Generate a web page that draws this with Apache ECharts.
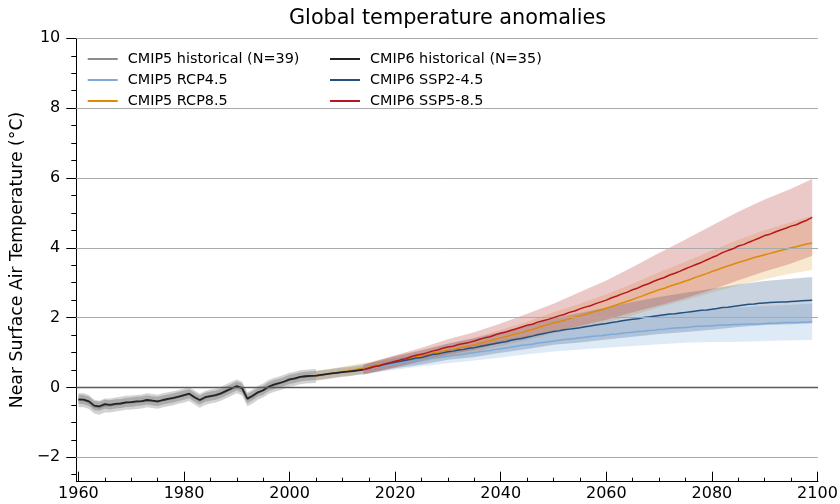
<!DOCTYPE html>
<html><head><meta charset="utf-8">
<script src="https://cdn.jsdelivr.net/npm/echarts@6/dist/echarts.min.js"></script>
<style>html,body{margin:0;padding:0;background:#fff}#c{width:840px;height:504px}</style>
</head><body><div id="c"></div>
<script>
// ---- data ----
const hist5Start = 1960; // CMIP5 historical 1960-2005
const hist5Mean = [-0.36,-0.37,-0.42,-0.55,-0.58,-0.52,-0.52,-0.49,-0.47,-0.44,
  -0.43,-0.42,-0.40,-0.37,-0.39,-0.41,-0.37,-0.34,-0.31,-0.27,
  -0.23,-0.19,-0.29,-0.38,-0.30,-0.26,-0.23,-0.18,-0.11,-0.04,
  0.03,-0.03,-0.34,-0.26,-0.15,-0.09,0.01,0.07,0.11,0.16,
  0.22,0.25,0.29,0.31,0.32,0.33];
const hist6Start = 1960; // CMIP6 historical 1960-2014
const hist6Mean = [-0.34,-0.35,-0.40,-0.52,-0.54,-0.48,-0.50,-0.47,-0.46,-0.43,
  -0.42,-0.40,-0.39,-0.36,-0.38,-0.40,-0.36,-0.33,-0.30,-0.26,
  -0.22,-0.18,-0.28,-0.36,-0.28,-0.25,-0.22,-0.17,-0.10,-0.03,
  0.04,-0.02,-0.32,-0.24,-0.14,-0.08,0.02,0.08,0.12,0.17,
  0.23,0.26,0.30,0.32,0.33,0.34,0.36,0.38,0.40,0.42,
  0.44,0.45,0.47,0.49,0.51];
const hist5Spread = 0.2;
const hist6Spread = 0.13;

const rcpStart = 2005; // CMIP5 scenarios 2005-2099
const rcp45Mean = [0.33,0.35,0.38,0.40,0.42,0.44,0.46,0.49,0.51,0.53,
  0.55,0.58,0.60,0.62,0.65,0.67,0.70,0.72,0.75,0.77,
  0.79,0.81,0.84,0.85,0.87,0.89,0.92,0.93,0.95,0.98,
  0.99,1.02,1.04,1.06,1.09,1.11,1.13,1.16,1.18,1.21,
  1.22,1.24,1.27,1.29,1.31,1.33,1.35,1.37,1.39,1.40,
  1.42,1.44,1.46,1.47,1.48,1.50,1.52,1.53,1.55,1.57,
  1.58,1.60,1.61,1.63,1.64,1.66,1.67,1.69,1.70,1.71,
  1.72,1.73,1.75,1.75,1.76,1.77,1.78,1.79,1.79,1.80,
  1.80,1.81,1.82,1.82,1.82,1.83,1.84,1.84,1.85,1.86,
  1.86,1.86,1.87,1.87,1.88];
const rcp85Mean = [0.33,0.35,0.38,0.41,0.43,0.45,0.48,0.50,0.53,0.56,
  0.58,0.62,0.65,0.68,0.71,0.74,0.77,0.81,0.84,0.88,
  0.91,0.94,0.98,1.00,1.04,1.07,1.09,1.13,1.16,1.19,
  1.22,1.26,1.30,1.34,1.38,1.42,1.45,1.50,1.54,1.57,
  1.62,1.66,1.71,1.76,1.80,1.85,1.88,1.92,1.97,2.01,
  2.05,2.09,2.14,2.18,2.22,2.27,2.32,2.37,2.42,2.47,
  2.52,2.58,2.63,2.69,2.74,2.80,2.84,2.90,2.95,2.99,
  3.05,3.10,3.16,3.21,3.26,3.32,3.37,3.43,3.48,3.53,
  3.58,3.62,3.67,3.72,3.76,3.80,3.84,3.88,3.92,3.96,
  4.00,4.03,4.07,4.11,4.14];
const sspStart = 2014; // CMIP6 scenarios 2014-2099
const ssp245Mean = [0.51,0.55,0.59,0.62,0.66,0.69,0.72,0.75,0.78,0.81,
  0.84,0.86,0.90,0.94,0.96,0.99,1.02,1.04,1.07,1.09,
  1.12,1.14,1.17,1.20,1.23,1.26,1.29,1.31,1.35,1.38,
  1.40,1.44,1.47,1.51,1.54,1.57,1.60,1.62,1.65,1.67,
  1.69,1.71,1.74,1.76,1.79,1.81,1.83,1.86,1.88,1.91,
  1.93,1.95,1.97,2.00,2.02,2.04,2.06,2.08,2.10,2.11,
  2.13,2.15,2.17,2.19,2.21,2.22,2.24,2.26,2.29,2.30,
  2.32,2.34,2.36,2.38,2.39,2.41,2.42,2.43,2.44,2.45,
  2.45,2.46,2.47,2.48,2.49,2.50];
const ssp585Mean = [0.51,0.55,0.60,0.62,0.67,0.71,0.75,0.79,0.82,0.88,
  0.92,0.95,0.99,1.04,1.07,1.12,1.16,1.18,1.23,1.26,
  1.29,1.33,1.38,1.42,1.45,1.51,1.55,1.59,1.64,1.68,
  1.73,1.78,1.81,1.87,1.91,1.95,2.00,2.05,2.09,2.15,
  2.19,2.25,2.30,2.34,2.40,2.45,2.50,2.57,2.62,2.68,
  2.73,2.80,2.85,2.92,2.97,3.04,3.10,3.15,3.22,3.27,
  3.33,3.40,3.46,3.52,3.58,3.65,3.72,3.78,3.86,3.92,
  3.97,4.05,4.09,4.16,4.22,4.28,4.35,4.39,4.45,4.51,
  4.56,4.62,4.66,4.73,4.79,4.87];

const rcpBandYears = [2005,2010,2015,2020,2025,2030,2035,2040,2045,2050,2055,2060,2065,2070,2075,2080,2085,2090,2095,2099];
const rcp45Spread = [0.14,0.14,0.15,0.16,0.18,0.20,0.22,0.25,0.27,0.30,0.33,0.36,0.39,0.42,0.44,0.47,0.49,0.50,0.51,0.52];
const rcp85Spread = [0.14,0.14,0.15,0.16,0.17,0.19,0.21,0.23,0.26,0.30,0.35,0.40,0.45,0.50,0.55,0.60,0.65,0.70,0.74,0.78];
const sspBandYears = [2014,2020,2025,2030,2035,2040,2045,2050,2055,2060,2065,2070,2075,2080,2085,2090,2095,2099];
const ssp245Spread = [0.14,0.17,0.20,0.23,0.27,0.30,0.34,0.38,0.42,0.46,0.50,0.53,0.56,0.59,0.61,0.63,0.65,0.66];
const ssp585Spread = [0.14,0.17,0.19,0.22,0.25,0.28,0.33,0.40,0.48,0.56,0.65,0.75,0.84,0.92,0.98,1.03,1.07,1.10];

const xMajorTicks = [1960,1980,2000,2020,2040,2060,2080,2100];
const xMinorTicks = [1960,1965,1970,1975,1980,1985,1990,1995,2000,2005,2010,2015,2020,2025,2030,2035,2040,2045,2050,2055,2060,2065,2070,2075,2080,2085,2090,2095,2100];
const yMajorTicks = [-2,0,2,4,6,8,10];
const yMinorTicks = [-2.5,-2,-1.5,-1,-0.5,0,0.5,1,1.5,2,2.5,3,3.5,4,4.5,5,5.5,6,6.5,7,7.5,8,8.5,9,9.5,10];

const names = {
  h5: 'CMIP5 historical (N=39)', r45: 'CMIP5 RCP4.5', r85: 'CMIP5 RCP8.5',
  h6: 'CMIP6 historical (N=35)', s245: 'CMIP6 SSP2-4.5', s585: 'CMIP6 SSP5-8.5'
};

// ---- helpers ----
function toPairs(start, arr) { return arr.map((v, i) => [start + i, v]); }
function constBand(start, arr, s) { return arr.map((v, i) => [start + i, v - s, v + s]); }
function yearBand(start, arr, years, spread) {
  return years.map((y, i) => { const m = arr[y - start]; return [y, m - spread[i], m + spread[i]]; });
}
function bandSeries(id, pts, color) {
  return {
    type: 'custom', id: id, name: id, silent: true, z: 1,
    xAxisIndex: 0, yAxisIndex: 0,
    data: [[2000, 0]],
    renderItem: function (params, api) {
      const up = pts.map(p => api.coord([p[0], p[2]]));
      const lo = pts.map(p => api.coord([p[0], p[1]])).reverse();
      return { type: 'polygon', shape: { points: up.concat(lo) }, style: { fill: color } };
    }
  };
}
function lineSeries(name, data, color, width, z) {
  return {
    type: 'line', name: name, data: data, xAxisIndex: 0, yAxisIndex: 0,
    symbol: 'none', showSymbol: false, z: z, silent: true,
    lineStyle: { color: color, width: width }, itemStyle: { color: color }
  };
}

const FONT = 'DejaVu Sans';
const LEG_ICON = 'path://M0 0H30V2H0Z';
const chart = echarts.init(document.getElementById('c'), null, { renderer: 'canvas' });

const gridLines = {
  type: 'line', name: 'gridlines', data: [], xAxisIndex: 0, yAxisIndex: 0, z: 0, silent: true,
  markLine: {
    silent: true, symbol: ['none', 'none'], label: { show: false },
    animation: false,
    data: yMajorTicks.map(v => ({ yAxis: v, lineStyle: { color: v === 0 ? '#5a5a5a' : '#aaaaaa', width: v === 0 ? 1.3 : 1, type: 'solid' } }))
  }
};

const legendCommon = {
  orient: 'vertical', top: 52, icon: LEG_ICON, itemWidth: 30, itemHeight: 14, itemGap: 7,
  selectedMode: false, padding: 0,
  textStyle: { fontFamily: FONT, fontSize: 14.4, color: '#000', padding: [0, 0, 0, 5] }
};

chart.setOption({
  animation: false,
  backgroundColor: '#fff',
  title: {
    text: 'Global temperature anomalies', left: 289, top: 8.5, padding: 0,
    textStyle: { fontFamily: FONT, fontSize: 20.8, fontWeight: 'normal', color: '#000' }
  },
  legend: [
    Object.assign({ data: [names.h5, names.r45, names.r85], left: 87.7 }, legendCommon),
    Object.assign({ data: [names.h6, names.s245, names.s585], left: 330 }, legendCommon)
  ],
  grid: { left: 76.3, right: 22, top: 38.3, bottom: 22.3, containLabel: false, outerBoundsMode: 'none' },
  xAxis: [
    { type: 'value', min: 1959.6, max: 2100.1, position: 'bottom',
      axisLine: { show: true, onZero: false, lineStyle: { color: '#000', width: 1 } },
      axisTick: { show: true, inside: true, length: 10, customValues: xMajorTicks, lineStyle: { color: '#000', width: 1 } },
      axisLabel: { show: true, customValues: xMajorTicks, margin: 4, fontFamily: FONT, fontSize: 16, color: '#000',
        formatter: v => String(v) },
      splitLine: { show: false } },
    { type: 'value', min: 1959.6, max: 2100.1, position: 'bottom',
      axisLine: { show: false, onZero: false },
      axisTick: { show: true, inside: true, length: 4, customValues: xMinorTicks, lineStyle: { color: '#000', width: 1 } },
      axisLabel: { show: false }, splitLine: { show: false } }
  ],
  yAxis: [
    { type: 'value', min: -2.7, max: 10, position: 'left',
      name: 'Near Surface Air Temperature (°C)', nameLocation: 'middle', nameGap: 46,
      nameTextStyle: { fontFamily: FONT, fontSize: 17.3, color: '#000' },
      axisLine: { show: true, onZero: false, lineStyle: { color: '#000', width: 1 } },
      axisTick: { show: true, inside: false, length: 10, customValues: yMajorTicks, lineStyle: { color: '#000', width: 1 } },
      axisLabel: { show: true, customValues: yMajorTicks, margin: 16, fontFamily: FONT, fontSize: 16, color: '#000',
        formatter: v => (v < 0 ? '\u2212' + Math.abs(v) : String(v)) },
      splitLine: { show: false } },
    { type: 'value', min: -2.7, max: 10, position: 'left',
      axisLine: { show: false, onZero: false },
      axisTick: { show: true, inside: false, length: 5, customValues: yMinorTicks, lineStyle: { color: '#000', width: 1 } },
      axisLabel: { show: false }, splitLine: { show: false } }
  ],
  series: [
    gridLines,
    bandSeries('band-h5', constBand(hist5Start, hist5Mean, hist5Spread), 'rgba(140,140,140,0.38)'),
    bandSeries('band-h6', constBand(hist6Start, hist6Mean, hist6Spread), 'rgba(90,90,90,0.32)'),
    bandSeries('band-r45', yearBand(rcpStart, rcp45Mean, rcpBandYears, rcp45Spread), 'rgba(146,184,223,0.30)'),
    bandSeries('band-r85', yearBand(rcpStart, rcp85Mean, rcpBandYears, rcp85Spread), 'rgba(224,150,40,0.22)'),
    bandSeries('band-s245', yearBand(sspStart, ssp245Mean, sspBandYears, ssp245Spread), 'rgba(40,80,130,0.25)'),
    bandSeries('band-s585', yearBand(sspStart, ssp585Mean, sspBandYears, ssp585Spread), 'rgba(180,40,40,0.25)'),
    lineSeries(names.h5, toPairs(hist5Start, hist5Mean), '#8c8c8c', 2, 3),
    lineSeries(names.r45, toPairs(rcpStart, rcp45Mean), '#7fa9d6', 1.5, 3),
    lineSeries(names.r85, toPairs(rcpStart, rcp85Mean), '#dd8a0a', 1.5, 3),
    lineSeries(names.h6, toPairs(hist6Start, hist6Mean), '#222222', 1.8, 4),
    lineSeries(names.s245, toPairs(sspStart, ssp245Mean), '#24507e', 1.5, 4),
    lineSeries(names.s585, toPairs(sspStart, ssp585Mean), '#b8161e', 1.5, 5)
  ]
});
</script>
</body></html>
